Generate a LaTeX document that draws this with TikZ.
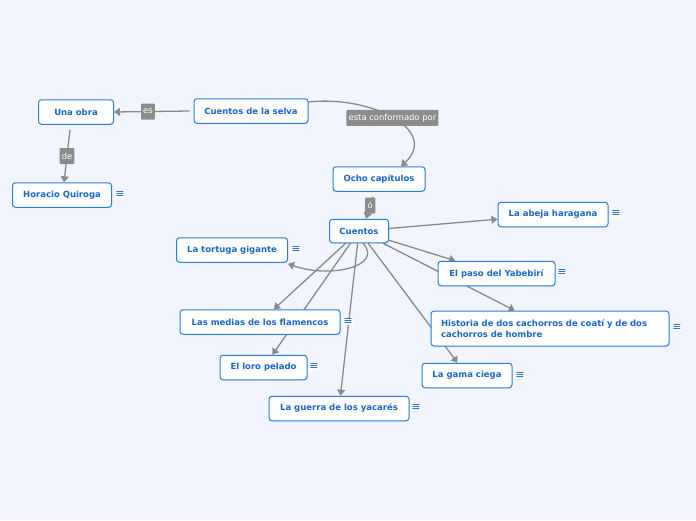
\documentclass[tikz,border=0pt]{standalone}
\usepackage{fontspec}
\setmainfont{DejaVu Sans}
\usetikzlibrary{arrows.meta,shadows}
\definecolor{bg}{HTML}{F2F5FD}
\definecolor{nodeborder}{HTML}{2A7DE1}
\definecolor{nodetext}{HTML}{1A66C8}
\definecolor{edgegray}{HTML}{8A8A8A}
\definecolor{labelgray}{HTML}{8C8C8C}
\pgfdeclarelayer{bottom}
\pgfdeclarelayer{background}
\pgfsetlayers{bottom,background,main}
\tikzset{
  topic/.style={draw=nodeborder, line width=1pt, fill=white, rounded corners=3pt,
    font=\fontsize{8.5}{10.5}\selectfont\bfseries, text=nodetext, inner sep=0pt,
    minimum height=24.5pt, drop shadow={opacity=0.18, shadow xshift=0.6pt, shadow yshift=-0.8pt}},
  conn/.style={draw=edgegray, line width=1.3pt, -{Triangle[width=8pt,length=6pt]}},
  lbl/.style={fill=labelgray, text=white, font=\fontsize{8.4}{10}\selectfont, inner sep=2.2pt,
    minimum height=16pt, rounded corners=1pt},
  noteicon/.style={text=nodetext, fill=white, font=\fontsize{11}{11}\selectfont, inner sep=0.3pt}
}
\begin{document}
\begin{tikzpicture}[x=1pt,y=-1pt]
\begin{pgfonlayer}{bottom}
\fill[bg] (0,0) rectangle (696,520);
\end{pgfonlayer}
\useasboundingbox (0,0) rectangle (696,520);

\node[topic, minimum width=75pt] (unaobra) at (76,112) {Una obra};
\node[topic, minimum width=114pt] (selva) at (251,111) {Cuentos de la selva};
\node[topic, minimum width=99pt] (horacio) at (62,195) {Horacio Quiroga};
\node[topic, minimum width=92pt] (ocho) at (379,179) {Ocho capítulos};
\node[topic, minimum width=59pt, minimum height=23.5pt] (cuentos) at (359,231) {Cuentos};
\node[topic, minimum width=111pt] (tortuga) at (232,250) {La tortuga gigante};
\node[topic, minimum width=110pt] (abeja) at (553,214.5) {La abeja haragana};
\node[topic, minimum width=117pt] (paso) at (496.5,273.5) {El paso del Yabebirí};
\node[topic, minimum width=238pt, minimum height=35pt, text width=218pt, align=left] (historia) at (550,328.5) {Historia de dos cachorros de coatí y de dos\\cachorros de hombre};
\node[topic, minimum width=90pt] (gama) at (467,375.5) {La gama ciega};
\node[topic, minimum width=160pt] (medias) at (260,322) {Las medias de los flamencos};
\node[topic, minimum width=87pt] (loro) at (263.5,367.5) {El loro pelado};
\node[topic, minimum width=140pt] (guerra) at (339,408.5) {La guerra de los yacarés};

\node[noteicon] (n1) at (120,195) {≡};
\node[noteicon] (n2) at (296,250) {≡};
\node[noteicon] (n3) at (616,214) {≡};
\node[noteicon] (n4) at (562,273) {≡};
\node[noteicon] (n5) at (677,328) {≡};
\node[noteicon] (n6) at (520,376) {≡};
\node[noteicon] (n7) at (348,322) {≡};
\node[noteicon] (n8) at (314,367) {≡};
\node[noteicon] (n9) at (416,408) {≡};

\begin{pgfonlayer}{background}
\draw[conn] ([xshift=-4pt]selva.west) -- (unaobra.east) node[lbl, pos=0.55] (les) {es};
\draw[conn] ([xshift=-6pt,yshift=-5pt]unaobra.south) -- ([xshift=2pt]horacio.north) node[lbl, midway] (lde) {de};
\draw[conn] ([yshift=9pt]selva.east) .. controls (370,95) and (440,130) .. ([xshift=22pt]ocho.north) node[lbl, pos=0.5] (lesta) {esta conformado por};
\draw[conn] ([xshift=-6pt,yshift=-5pt]ocho.south) -- ([xshift=7pt]cuentos.north) node[lbl, pos=0.4, inner sep=2.5pt] (lo) {ó};
\draw[conn] ([xshift=4pt]cuentos.south) .. controls (384,266) and (330,279) .. ([yshift=-1pt]tortuga.south east);
\draw[conn] (cuentos) -- (abeja);
\draw[conn] (cuentos) -- (paso);
\draw[conn] (cuentos) -- (historia);
\draw[conn] (cuentos) -- (gama);
\draw[conn] (cuentos) -- (medias);
\draw[conn] (cuentos) -- (loro);
\draw[conn] (cuentos) -- (guerra);
\end{pgfonlayer}
\end{tikzpicture}
\end{document}
